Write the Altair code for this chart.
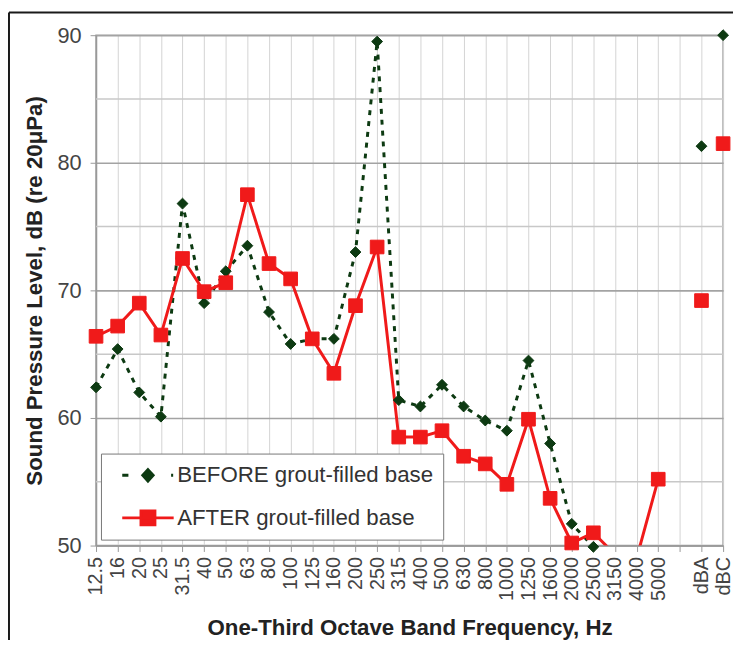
import altair as alt
import pandas as pd

# ---------------- data ----------------
bands = ["12.5", "16", "20", "25", "31.5", "40", "50", "63", "80", "100", "125", "160",
         "200", "250", "315", "400", "500", "630", "800", "1000", "1250", "1600",
         "2000", "2500", "3150", "4000", "5000"]
gap = [" "]
summary = ["dBA", "dBC"]

before_bands = [62.4, 65.4, 62.0, 60.1, 76.8, 69.0, 71.5, 73.5, 68.3, 65.8, 66.2, 66.2,
                73.0, 89.5, 61.4, 60.9, 62.6, 60.9, 59.8, 59.0, 64.5, 58.0,
                51.7, 49.9, 47.5, 45.5, 46.0]
after_bands = [66.4, 67.2, 69.0, 66.5, 72.5, 69.9, 70.6, 77.5, 72.1, 70.9, 66.2, 63.5,
               68.8, 73.4, 58.5, 58.5, 59.0, 57.0, 56.4, 54.8, 59.9, 53.7,
               50.2, 51.0, 49.3, 49.0, 55.2]
before_summary = [81.3, 90.0]
after_summary = [69.2, 81.5]

series_names = ["BEFORE grout-filled base", "AFTER grout-filled base"]

major_ticks = [50, 60, 70, 80, 90]
minor_grid = [55, 65, 75, 85]

GREEN = "#0d3a12"
RED = "#f01a1a"
FONT = "Liberation Sans"
W, H = 634, 516

x_domain = bands + gap + summary

line_df = pd.DataFrame({
    "freq": bands * 2,
    "series": [series_names[0]] * len(bands) + [series_names[1]] * len(bands),
    "level": before_bands + after_bands,
})
pts_df = pd.DataFrame({
    "freq": (bands + summary) * 2,
    "series": [series_names[0]] * (len(bands) + 2) + [series_names[1]] * (len(bands) + 2),
    "level": before_bands + before_summary + after_bands + after_summary,
})
minor_df = pd.DataFrame({"gridlevel": [float(v) for v in minor_grid]})

x_enc = alt.X(
    "freq:N",
    sort=None,
    scale=alt.Scale(type="point", domain=x_domain, padding=0),
    axis=alt.Axis(
        title="One-Third Octave Band Frequency, Hz",
        labelAngle=-90, labelAlign="right", labelBaseline="middle",
        labelFont=FONT, labelFontSize=20, labelColor="#444", labelPadding=5,
        labelOverlap=False,
        tickSize=6, tickColor="#999", domainColor="#999", domainWidth=1.5,
        grid=True, gridColor="#d3d3d3", gridWidth=1,
        titleFont=FONT, titleFontSize=22.5, titleFontWeight="bold", titleColor="#222",
        titlePadding=16,
    ),
)
y_scale = alt.Scale(domain=[50, 90], nice=False, zero=False)
y_enc = alt.Y(
    "level:Q",
    scale=y_scale,
    axis=alt.Axis(
        title="Sound Pressure Level, dB (re 20μPa)",
        values=major_ticks,
        labelFont=FONT, labelFontSize=22, labelColor="#444", labelPadding=9,
        labelOverlap=False,
        tickSize=6, tickColor="#999",
        domainColor="#999", domainWidth=1.5,
        gridColor="#a3a3a3", gridWidth=1.6,
        titleFont=FONT, titleFontSize=22.5, titleFontWeight="bold", titleColor="#222",
        titlePadding=11,
    ),
)

one_row = pd.DataFrame({"k": [0]})
border_top = alt.Chart(one_row).mark_rule(color="#1a1a1a", strokeWidth=2).encode(
    x=alt.value(-88), x2=alt.value(W + 12), y=alt.value(-23))
border_left = alt.Chart(one_row).mark_rule(color="#1a1a1a", strokeWidth=2).encode(
    x=alt.value(-88), y=alt.value(-23), y2=alt.value(630))

minor_rules = alt.Chart(minor_df).mark_rule(
    color="#c8c8c8", strokeWidth=1.5
).encode(y=alt.Y("gridlevel:Q", scale=y_scale, title="Sound Pressure Level, dB (re 20μPa)"))

before_line = alt.Chart(line_df).transform_filter(
    alt.datum.series == series_names[0]
).mark_line(color=GREEN, strokeWidth=3, strokeDash=[5, 6], clip=True).encode(x=x_enc, y=y_enc)

after_line = alt.Chart(line_df).transform_filter(
    alt.datum.series == series_names[1]
).mark_line(color=RED, strokeWidth=3, clip=True).encode(x=x_enc, y=y_enc)

before_pts = alt.Chart(pts_df).transform_filter(
    (alt.datum.series == series_names[0]) & (alt.datum.level >= 49.5)
).mark_point(shape="diamond", filled=True, color=GREEN, stroke=GREEN, strokeWidth=1,
             size=120, opacity=1).encode(x=x_enc, y=y_enc)

after_pts = alt.Chart(pts_df).transform_filter(
    (alt.datum.series == series_names[1]) & (alt.datum.level >= 49.5)
).mark_point(shape="square", filled=True, color=RED, stroke=RED, strokeWidth=1,
             size=190, opacity=1).encode(x=x_enc, y=y_enc)

BEFORE_SYMBOL = "M-1,0H-0.76M0.9,0H0.98M0,-0.22L0.2,0L0,0.22L-0.2,0Z"
AFTER_SYMBOL = "M-1,0H1M-0.27,-0.27H0.27V0.27H-0.27Z"

leg = alt.Legend(
    title=None, orient="none", legendX=5, legendY=423,
    fillColor="white", strokeColor="#777", padding=10,
    symbolSize=2704, symbolStrokeWidth=3, symbolOffset=10,
    labelFont=FONT, labelFontSize=22.5, labelColor="#333", labelOffset=2, labelLimit=500,
    clipHeight=24, rowPadding=19,
)
legend_layer = alt.Chart(pts_df).transform_filter("false").mark_point(
    filled=True, opacity=1
).encode(
    x=x_enc, y=y_enc,
    shape=alt.Shape("series:N", scale=alt.Scale(domain=series_names,
                                                range=[BEFORE_SYMBOL, AFTER_SYMBOL]), legend=leg),
    fill=alt.Fill("series:N", scale=alt.Scale(domain=series_names, range=[GREEN, RED]), legend=leg),
    stroke=alt.Stroke("series:N", scale=alt.Scale(domain=series_names, range=[GREEN, RED]), legend=leg),
)

chart = alt.layer(
    border_top, border_left, minor_rules, before_line, after_line, before_pts, after_pts,
    legend_layer
).properties(
    width=W, height=H,
    padding={"left": 89, "top": 24, "right": 10, "bottom": 92},
    autosize=alt.AutoSizeParams(type="none"),
    background="white",
).configure_view(stroke="#9a9a9a", strokeWidth=1.5)

chart.save("out.html", embed_options={"renderer": "svg", "actions": False})
